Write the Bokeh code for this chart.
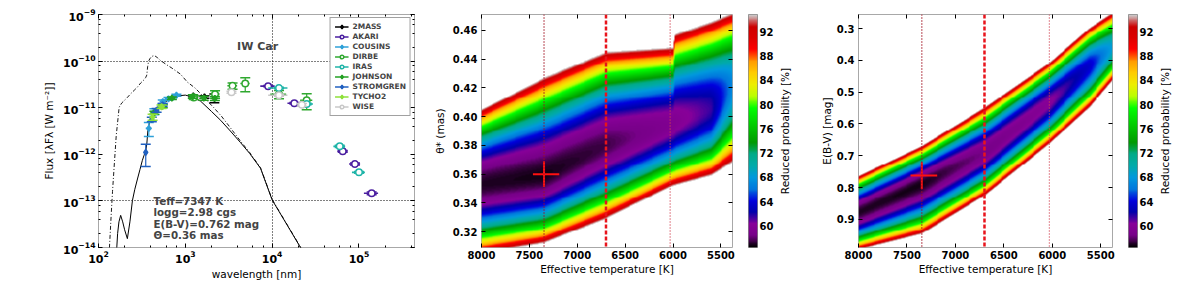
import numpy as np
from bokeh.plotting import figure
from bokeh.layouts import row
from bokeh.models import (Range1d, LinearAxis, LogAxis, FixedTicker, LogTicker, Legend, LegendItem,
                          Label, Span, Title, LinearColorMapper, CustomJSTickFormatter,
                          NumeralTickFormatter, ColumnDataSource)
from bokeh.embed import file_html
from bokeh.resources import INLINE

FONT = "DejaVu Sans"

# ---------------- SED panel data ----------------
# reddened model (wavelength nm, log10 lambda*F_lambda)
model_wl = [160, 166, 172, 180, 190, 200, 215, 230, 246, 262, 281, 300, 320, 335, 350, 360, 370, 385,
            400, 430, 475, 540, 620, 740, 880, 1000, 1200, 1500, 2000, 2550, 3300, 4330, 5500, 7350,
            10000, 14900, 22000]
model_logf = [-14.2, -13.7, -13.45, -13.31, -13.45, -13.62, -13.81, -13.45, -12.99, -12.75, -12.53,
              -12.33, -12.13, -12.02, -11.92, -11.78, -11.5, -11.33, -11.21, -11.1, -10.99, -10.92,
              -10.85, -10.79, -10.74, -10.73, -10.77, -10.86, -11.08, -11.27, -11.5, -11.75, -11.98,
              -12.3, -12.98, -13.52, -14.05]
# dereddened model
dered_wl = [132, 140, 145, 151, 160, 173, 185, 197, 215, 235, 260, 280, 306, 335, 350, 360, 368, 378,
            390, 410, 440, 480, 520, 600, 700, 880, 1055, 1300, 1500, 1800, 2130, 2600, 3300, 4330,
            5500, 7350, 10000, 14900, 22000]
dered_logf = [-14.2, -13.3, -12.8, -12.3, -11.6, -10.99, -10.9, -10.85, -10.78, -10.7, -10.62, -10.56,
              -10.47, -10.4, -10.35, -10.3, -10.12, -10.0, -9.95, -9.9, -9.88, -9.93, -9.99, -10.07,
              -10.15, -10.28, -10.45, -10.58, -10.7, -10.86, -11.0, -11.18, -11.43, -11.72, -11.96,
              -12.29, -12.97, -13.51, -14.04]

# photometry: wavelength [nm], flux [W m^-2], flux error, filter half width [nm]
tmass_wl = [1235, 1662, 2159]
tmass_flux = [1.78e-11, 1.70e-11, 1.62e-11]
tmass_err = [0.08e-11, 0.10e-11, 0.35e-11]
tmass_hw = [80, 120, 130]

akari_wl = [9000, 18000, 65000, 90000, 140000]
akari_flux = [2.9e-11, 1.25e-11, 1.16e-12, 6.2e-13, 1.46e-13]
akari_err = [0.1e-11, 0.05e-11, 0.05e-12, 0.3e-13, 0.1e-13]
akari_hw = [1700, 3000, 8700, 13000, 26000]

cousins_wl = [380, 440, 550, 640, 790]
cousins_flux = [3.6e-12, 8.3e-12, 1.35e-11, 1.55e-11, 1.85e-11]
cousins_err = [1.2e-12, 1.2e-12, 1.2e-12, 1.0e-12, 1.0e-12]
cousins_hw = [30, 45, 45, 60, 70]

dirbe_wl = [1250, 2200, 3500, 4900, 12000, 25000]
dirbe_flux = [1.65e-11, 1.95e-11, 2.95e-11, 3.3e-11, 1.95e-11, 1.45e-11]
dirbe_err = [0.15e-11, 0.35e-11, 0.45e-11, 1.1e-11, 0.4e-11, 0.55e-11]
dirbe_hw = [150, 250, 450, 600, 2500, 4000]

iras_wl = [12000, 25000, 60000, 100000]
iras_flux = [2.65e-11, 1.2e-11, 1.48e-12, 4.1e-13]
iras_err = [0.1e-11, 0.05e-11, 0.08e-12, 0.2e-13]
iras_hw = [3000, 4500, 9300, 17000]

johnson_wl = [440, 550, 700, 1220, 1630, 2190]
johnson_flux = [7.8e-12, 1.08e-11, 1.6e-11, 1.74e-11, 1.6e-11, 1.58e-11]
johnson_err = [0.6e-12, 0.8e-12, 1.0e-12, 0.15e-11, 0.15e-11, 0.15e-11]
johnson_hw = [45, 45, 70, 100, 150, 200]

stromgren_wl = [350, 411, 467, 547]
stromgren_flux = [1.1e-12, 5.6e-12, 8.8e-12, 1.15e-11]
stromgren_err = [0.55e-12, 0.6e-12, 0.8e-12, 0.8e-12]
stromgren_hw = [15, 10, 10, 12]

tycho2_wl = [420, 532]
tycho2_flux = [6.3e-12, 1.05e-11]
tycho2_err = [0.9e-12, 0.9e-12]
tycho2_hw = [35, 50]

wise_wl = [3400, 12000, 22000]
wise_flux = [2.15e-11, 1.85e-11, 1.15e-11]
wise_err = [0.1e-11, 0.1e-11, 0.08e-11]
wise_hw = [330, 3000, 2500]

star_name = "IW Car"
fit_text = ["Teff=7347 K", "logg=2.98 cgs", "E(B-V)=0.762 mag", "\u0398=0.36 mas"]

# ---------------- probability maps ----------------
teff_best = 7347
teff_err_plus = 116     # towards hotter
teff_err_minus = 159    # towards cooler
theta_best = 0.36
theta_err = 0.009
ebv_best = 0.762
ebv_err = 0.042
teff_marks = [7347, 6700, 6030]

# ridge description of the theta map
th_teff = [8000, 7347, 6700, 6000, 5990, 5600, 5380]
th_upper = [0.405, 0.427, 0.445, 0.448, 0.457, 0.466, 0.472]
th_center = [0.353, 0.359, 0.380, 0.395, 0.396, 0.405, 0.422]
th_lower = [0.305, 0.312, 0.329, 0.352, 0.352, 0.359, 0.368]
th_minprob = [57.0, 56.8, 57.5, 59.5, 59.5, 61.5, 67.0]

# ridge description of the E(B-V) map
eb_teff = [8000, 7347, 6700, 6030, 5613, 5380]
eb_upper = [0.763, 0.669, 0.548, 0.407, 0.297, 0.250]
eb_center = [0.878, 0.789, 0.690, 0.532, 0.417, 0.360]
eb_lower = [0.995, 0.946, 0.826, 0.663, 0.548, 0.464]
eb_minprob = [57.0, 56.8, 58.5, 60.0, 63.5, 68.5]

prob_edge = 95.0
cbar_low, cbar_high = 56.45, 94.85
cbar_ticks = [60, 64, 68, 72, 76, 80, 84, 88, 92]
cbar_title = "Reduced probability [%]"

# ---------------- colormap (nipy_spectral) ----------------
_nipy = {
    'red': [(0.0, 0.0), (0.05, 0.4667), (0.10, 0.5333), (0.15, 0.0), (0.20, 0.0), (0.25, 0.0),
            (0.30, 0.0), (0.35, 0.0), (0.40, 0.0), (0.45, 0.0), (0.50, 0.0), (0.55, 0.0),
            (0.60, 0.0), (0.65, 0.7333), (0.70, 0.9333), (0.75, 1.0), (0.80, 1.0), (0.85, 1.0),
            (0.90, 0.8667), (0.95, 0.80), (1.0, 0.80)],
    'green': [(0.0, 0.0), (0.05, 0.0), (0.10, 0.0), (0.15, 0.0), (0.20, 0.0), (0.25, 0.4667),
              (0.30, 0.6000), (0.35, 0.6667), (0.40, 0.6667), (0.45, 0.6000), (0.50, 0.7333),
              (0.55, 0.8667), (0.60, 1.0), (0.65, 1.0), (0.70, 0.9333), (0.75, 0.8000),
              (0.80, 0.6000), (0.85, 0.0), (0.90, 0.0), (0.95, 0.0), (1.0, 0.80)],
    'blue': [(0.0, 0.0), (0.05, 0.5333), (0.10, 0.6000), (0.15, 0.6667), (0.20, 0.8667),
             (0.25, 0.8667), (0.30, 0.8667), (0.35, 0.6667), (0.40, 0.5333), (0.45, 0.0),
             (0.5, 0.0), (0.55, 0.0), (0.60, 0.0), (0.65, 0.0), (0.70, 0.0), (0.75, 0.0),
             (0.80, 0.0), (0.85, 0.0), (0.90, 0.0), (0.95, 0.0), (1.0, 0.80)],
}


def nipy_palette(n=256):
    xs = np.linspace(0, 1, n)
    ch = []
    for c in ('red', 'green', 'blue'):
        pts = _nipy[c]
        ch.append(np.interp(xs, [q[0] for q in pts], [q[1] for q in pts]))
    return ["#%02x%02x%02x" % tuple(int(round(v * 255)) for v in rgb) for rgb in zip(*ch)]


PALETTE = nipy_palette()


def prob_map(tvals, yvals, tp, up, cp, lp, mp):
    order = np.argsort(tp)
    tp = np.asarray(tp, float)[order]
    U = np.interp(tvals, tp, np.asarray(up, float)[order])
    C = np.interp(tvals, tp, np.asarray(cp, float)[order])
    L = np.interp(tvals, tp, np.asarray(lp, float)[order])
    M = np.interp(tvals, tp, np.asarray(mp, float)[order])
    Y = yvals[:, None]
    side_u = (Y - C) * (U - C) >= 0
    d = np.where(side_u, (Y - C) / (U - C), (Y - C) / (L - C))
    v = M + (prob_edge - M) * d ** 2
    v[d > 1.0] = np.nan
    return v


def style_axis(ax, size="10px"):
    ax.axis_line_color = None
    ax.major_tick_in = 4
    ax.major_tick_out = 0
    ax.minor_tick_in = 2
    ax.minor_tick_out = 0
    ax.major_tick_line_color = "black"
    ax.minor_tick_line_color = "black"
    ax.major_label_text_font = FONT
    ax.major_label_text_font_style = "bold"
    ax.major_label_text_font_size = size
    ax.major_label_text_color = "black"
    ax.axis_label_text_font = FONT
    ax.axis_label_text_font_style = "normal"
    ax.axis_label_text_font_size = "10.5px"
    ax.axis_label_text_color = "black"


def hidden_axis(cls, ticker):
    ax = cls(ticker=ticker, formatter=CustomJSTickFormatter(code="return ''"))
    ax.axis_line_color = None
    ax.major_label_text_font_size = "6px"
    ax.major_label_text_alpha = 0
    ax.major_label_standoff = 0
    ax.major_tick_in = 4
    ax.major_tick_out = 0
    ax.minor_tick_in = 2
    ax.minor_tick_out = 0
    return ax


TOP, BOTTOM, H = 14, 36, 283

# ================= Panel 1: SED =================
p1 = figure(width=430, height=H, x_axis_type="log", y_axis_type="log",
            x_range=Range1d(100, 4.36e5), y_range=Range1d(1e-14, 1e-9),
            output_backend="svg", toolbar_location=None,
            min_border_left=98, min_border_right=16, min_border_top=TOP, min_border_bottom=BOTTOM)
p1.outline_line_color = "#a8a8a8"
p1.xaxis.ticker = LogTicker(desired_num_ticks=4)
p1.yaxis.ticker = LogTicker(desired_num_ticks=6)
style_axis(p1.xaxis[0], "11px")
style_axis(p1.yaxis[0], "11px")
p1.xaxis.axis_label = "wavelength [nm]"
p1.yaxis.axis_label = "Flux [\u03bbF\u03bb [W m\u207b\u00b2]]"
p1.xaxis.major_label_standoff = 3
p1.yaxis.major_label_standoff = 3
p1.yaxis.axis_label_standoff = 5
p1.xaxis.axis_label_standoff = 2
p1.add_layout(hidden_axis(LogAxis, LogTicker(desired_num_ticks=4)), "above")
p1.add_layout(hidden_axis(LogAxis, LogTicker(desired_num_ticks=6)), "right")
p1.xgrid.ticker = FixedTicker(ticks=[1e4])
p1.ygrid.ticker = FixedTicker(ticks=[1e-10, 1e-13])
p1.grid.grid_line_color = "black"
p1.grid.grid_line_dash = "1 2"
p1.grid.grid_line_width = 1

p1.line(dered_wl, [10 ** v for v in dered_logf], line_color="black", line_width=0.9,
        line_dash="4 2 1 2")
p1.line(model_wl, [10 ** v for v in model_logf], line_color="black", line_width=1.0)

systems = [
    ("2MASS", tmass_wl, tmass_flux, tmass_err, tmass_hw, "black", "diamond", True),
    ("AKARI", akari_wl, akari_flux, akari_err, akari_hw, "#4a1ea0", "circle", False),
    ("COUSINS", cousins_wl, cousins_flux, cousins_err, cousins_hw, "#2ea0d8", "diamond", True),
    ("DIRBE", dirbe_wl, dirbe_flux, dirbe_err, dirbe_hw, "#2fa82f", "circle", False),
    ("IRAS", iras_wl, iras_flux, iras_err, iras_hw, "#1fb4a8", "circle", False),
    ("JOHNSON", johnson_wl, johnson_flux, johnson_err, johnson_hw, "#23a023", "diamond", True),
    ("STROMGREN", stromgren_wl, stromgren_flux, stromgren_err, stromgren_hw, "#2060c0", "diamond", True),
    ("TYCHO2", tycho2_wl, tycho2_flux, tycho2_err, tycho2_hw, "#8ee03a", "diamond", True),
    ("WISE", wise_wl, wise_flux, wise_err, wise_hw, "#c8c8c8", "circle", False),
]

legend_items = []
for name, wl, fl, er, hw, col, mk, filled in systems:
    wl = np.asarray(wl, float)
    fl = np.asarray(fl, float)
    er = np.asarray(er, float)
    hw = np.asarray(hw, float)
    src = ColumnDataSource(dict(x=wl, y=fl, xl=wl - hw, xr=wl + hw, yl=fl - er, yh=fl + er))
    hseg = p1.segment(x0="xl", y0="y", x1="xr", y1="y", source=src, line_color=col, line_width=1.6)
    p1.segment(x0="x", y0="yl", x1="x", y1="yh", source=src, line_color=col, line_width=1.2)
    p1.scatter(x="x", y="yl", source=src, marker="dash", size=10, line_color=col, line_width=1.5)
    p1.scatter(x="x", y="yh", source=src, marker="dash", size=10, line_color=col, line_width=1.5)
    r = p1.scatter(x="x", y="y", source=src, marker=mk, size=6 if filled else 6.5,
                   fill_color=col if filled else "white", line_color=col, line_width=1.5)
    legend_items.append(LegendItem(label=name, renderers=[hseg, r]))

legend = Legend(items=legend_items, location="top_right", margin=3, padding=4, spacing=1,
                glyph_height=9, glyph_width=14, label_height=9, label_standoff=4,
                label_text_font=FONT, label_text_font_style="bold", label_text_font_size="7.5px",
                border_line_color="#444444", border_line_width=1, background_fill_alpha=1.0)
p1.add_layout(legend)

p1.add_layout(Label(x=6800, y=2.1e-10, text=star_name, text_align="center", text_baseline="middle",
                    text_font=FONT, text_font_style="bold", text_font_size="11px"))
fit_y = [1.33e-13, 7.6e-14, 4.3e-14, 2.45e-14]
for txt, yy in zip(fit_text, fit_y):
    p1.add_layout(Label(x=430, y=yy, text=txt, text_align="left",
                        text_baseline="top", text_font=FONT, text_font_style="bold",
                        text_font_size="10.3px"))


# ================= Panels 2 and 3: probability maps =================
mapper = LinearColorMapper(palette=PALETTE, low=cbar_low, high=cbar_high, nan_color="rgba(0,0,0,0)")
T_LEFT, T_RIGHT = 8000, 5379
teff_ticks = [8000, 7500, 7000, 6500, 6000, 5500]


def heat_figure(width, left, y0, y1, yticks, yfmt, ylabel, label_standoff):
    p = figure(width=width, height=H, x_range=Range1d(-T_LEFT, -T_RIGHT), y_range=Range1d(y0, y1),
               output_backend="svg", toolbar_location=None,
               min_border_left=left, min_border_right=16, min_border_top=TOP, min_border_bottom=BOTTOM)
    p.outline_line_color = "#a8a8a8"
    p.grid.grid_line_color = None
    p.xaxis.ticker = FixedTicker(ticks=[-t for t in teff_ticks])
    p.xaxis.formatter = CustomJSTickFormatter(code="return Math.abs(tick).toFixed(0)")
    p.yaxis.ticker = FixedTicker(ticks=yticks)
    p.yaxis.formatter = yfmt
    style_axis(p.xaxis[0])
    style_axis(p.yaxis[0])
    p.xaxis.minor_tick_in = 0
    p.yaxis.minor_tick_in = 0
    p.xaxis.axis_label = "Effective temperature [K]"
    p.yaxis.axis_label = ylabel
    p.xaxis.major_label_standoff = 3
    p.yaxis.major_label_standoff = 4
    p.xaxis.axis_label_standoff = 1
    p.yaxis.axis_label_standoff = label_standoff
    ax_top = hidden_axis(LinearAxis, FixedTicker(ticks=[-t for t in teff_ticks]))
    ax_top.minor_tick_in = 0
    ax_right = hidden_axis(LinearAxis, FixedTicker(ticks=yticks))
    ax_right.minor_tick_in = 0
    p.add_layout(ax_top, "above")
    p.add_layout(ax_right, "right")
    return p


def cbar_figure():
    f = figure(width=28, height=H, x_range=Range1d(0, 1), y_range=Range1d(cbar_low, cbar_high),
               output_backend="svg", toolbar_location=None, x_axis_location=None,
               y_axis_location="right", min_border_left=0, min_border_right=17,
               min_border_top=TOP, min_border_bottom=BOTTOM)
    grad = np.linspace(cbar_low, cbar_high, 256)[:, None]
    f.image(image=[grad], x=0, y=cbar_low, dw=1, dh=cbar_high - cbar_low, color_mapper=mapper)
    f.grid.grid_line_color = None
    f.outline_line_color = "#888888"
    f.yaxis.ticker = FixedTicker(ticks=cbar_ticks)
    style_axis(f.yaxis[0])
    f.yaxis.major_tick_in = 0
    f.yaxis.minor_tick_in = 0
    f.yaxis.major_label_standoff = 2
    return f


def title_figure(text):
    f = figure(width=18, height=H, x_range=Range1d(0, 1), y_range=Range1d(0, 1),
               output_backend="svg", toolbar_location=None, x_axis_location=None,
               y_axis_location=None, min_border_left=0, min_border_right=0,
               min_border_top=TOP, min_border_bottom=BOTTOM)
    f.outline_line_color = None
    f.grid.grid_line_color = None
    f.add_layout(Title(text=text, align="center", text_font=FONT, text_font_size="10.5px",
                       text_font_style="normal", text_color="black", standoff=0, offset=0), "left")
    return f


def add_marks(p, y_best, y_err):
    styles = [("#a01020", "1 2", 1.5), ("#e8141c", "4 2", 2.5), ("#d04050", "1 2", 1.3)]
    for t, (c, dash, w) in zip(teff_marks, styles):
        p.add_layout(Span(location=-t, dimension="height", line_color=c, line_dash=dash, line_width=w))
    p.segment(x0=[-(teff_best + teff_err_plus)], y0=[y_best], x1=[-(teff_best - teff_err_minus)],
              y1=[y_best], line_color="#ff1010", line_width=2)
    p.segment(x0=[-teff_best], y0=[y_best - y_err], x1=[-teff_best], y1=[y_best + y_err],
              line_color="#ff1010", line_width=2)


nx, ny = 262, 240
xs = -T_LEFT + (np.arange(nx) + 0.5) * (T_LEFT - T_RIGHT) / nx

# ---- panel 2: theta ----
TH0, TH1 = 0.309, 0.471
p2 = heat_figure(318, 48, TH0, TH1, [0.32, 0.34, 0.36, 0.38, 0.40, 0.42, 0.44, 0.46],
                 NumeralTickFormatter(format="0.00"), "\u03b8* (mas)", 4)
ys = TH0 + (np.arange(ny) + 0.5) * (TH1 - TH0) / ny
Z2 = prob_map(-xs, ys, th_teff, th_upper, th_center, th_lower, th_minprob)
p2.image(image=[Z2], x=-T_LEFT, y=TH0, dw=T_LEFT - T_RIGHT, dh=TH1 - TH0, color_mapper=mapper)
add_marks(p2, theta_best, theta_err)

# ---- panel 3: E(B-V) (inverted axis via negation) ----
EB_TOP, EB_BOT = 0.256, 0.988
p3 = heat_figure(334, 64, -EB_BOT, -EB_TOP, [-0.9, -0.8, -0.7, -0.6, -0.5, -0.4, -0.3],
                 CustomJSTickFormatter(code="return Math.abs(tick).toFixed(1)"), "E(B-V) [mag]", 1)
ys3 = -EB_BOT + (np.arange(ny) + 0.5) * (EB_BOT - EB_TOP) / ny
Z3 = prob_map(-xs, -ys3, eb_teff, eb_upper, eb_center, eb_lower, eb_minprob)
p3.image(image=[Z3], x=-T_LEFT, y=-EB_BOT, dw=T_LEFT - T_RIGHT, dh=EB_BOT - EB_TOP, color_mapper=mapper)
add_marks(p3, -ebv_best, ebv_err)

layout = row(p1, p2, cbar_figure(), title_figure(cbar_title), p3, cbar_figure(), title_figure(cbar_title))
open("out.html", "w").write(file_html(layout, INLINE))
